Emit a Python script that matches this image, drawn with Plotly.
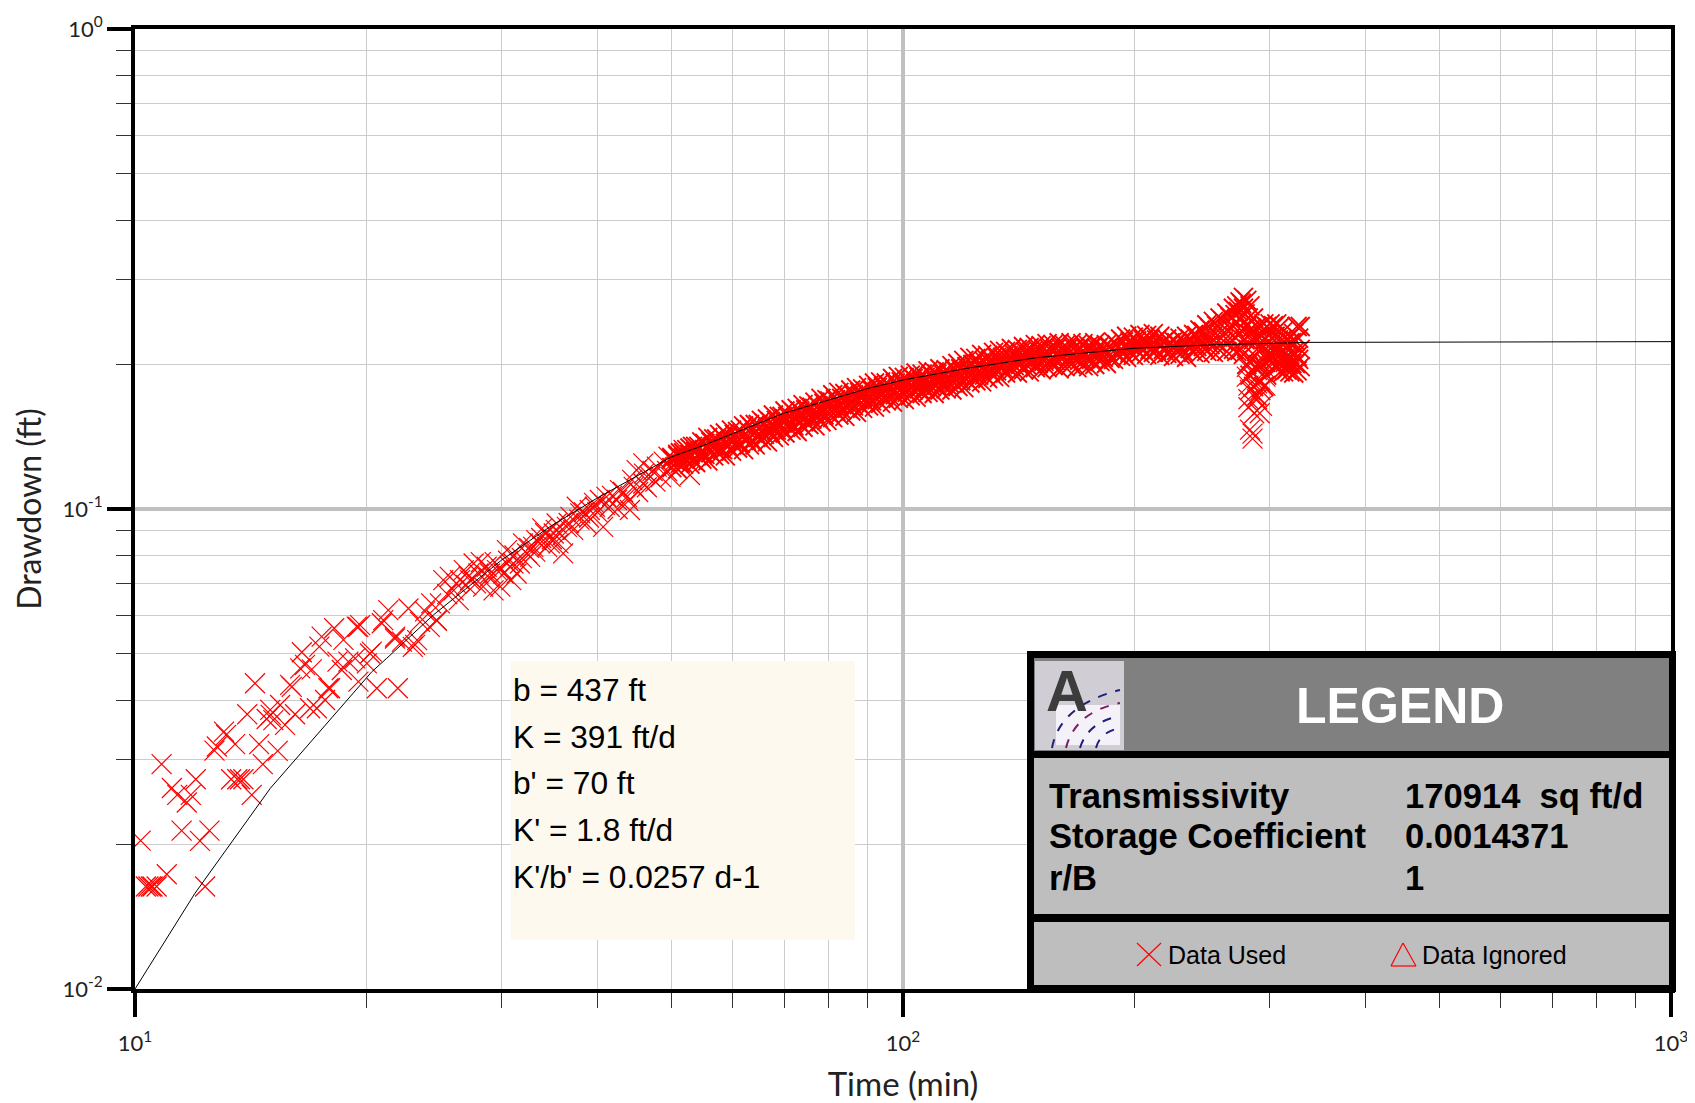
import plotly.graph_objects as go

# scattered early readings, time (min) and drawdown (ft)
early_t = [10.17, 10.33, 10.41, 10.49, 10.54, 10.67, 11.0, 12.34, 11.5, 12.15, 12.5, 10.83, 11.17, 11.35, 11.68, 11.82, 12.0,
           13.34, 13.59, 13.7, 13.84, 14.19, 14.67, 15.34, 12.69, 12.78, 13.06, 13.14, 13.5, 14.51, 14.33, 14.0, 14.84, 15.02,
           15.14, 15.0, 15.45, 15.68, 16.16, 16.9, 17.25, 17.68, 15.92, 16.0, 16.49, 16.41, 16.65, 16.99, 17.38, 17.5, 18.17,
           17.95, 17.86, 18.35, 18.68, 18.59, 18.96, 19.35, 19.44, 19.64, 19.54, 20.04, 20.34, 20.65, 21.99, 20.96, 21.81,
           22.26, 23.16, 24.72, 23.51]
early_s = [.02038, .01635, .01635, .01635, .01635, .01635, .01734, .01635, .02138, .02035, .02138, .0294, .02623, .02538,
           .02446, .02538, .02735, .02735, .02735, .02735, .02735, .02538, .0294, .03133, .03138, .032, .03437, .03383, .03236,
           .03236, .04334, .03736, .03652, .03724, .03633, .03814, .03906, .03549, .03736, .03845, .03845, .04, .043, .0426,
           .0503, .04657, .04733, .04635, .05168, .05421, .05643, .04232, .04232, .0481, .05337, .0462, .0481, .04886, .05688,
           .0573, .0437, .0477, .05045, .04232, .04232, .0578, .05421, .05293, .0521, .0585, .0582]

# middle part of the curve
mid_t = [19.53, 20.23, 21.05, 21.37, 21.8, 22.7, 23.0, 23.86, 24.3, 24.7, 25.2, 26.0, 25.7, 26.4, 27.0, 27.6, 28.0, 28.4, 29.3,
         28.7, 29.6, 30.2, 30.9, 31.4, 31.1, 30.5, 32.0, 32.7, 33.3, 34.4, 34.7, 35.6, 36.1, 33.9, 35.4, 36.9, 37.6, 38.7,
         39.7, 40.7, 41.1, 42.4, 44.1, 43.7, 45.0, 45.9, 46.9, 49.5, 51.8, 52.8, 54.4, 26.5, 24.95, 24.2, 23.3, 26.8, 27.3,
         29.0, 29.9, 30.8, 31.7, 32.4, 33.0, 33.7, 35.1, 36.5, 38.0, 39.1, 40.3, 41.5, 42.8, 44.6, 45.9, 47.8, 49.8,
         25.5, 26.2, 27.2, 27.8, 28.2, 28.9, 29.4, 30, 30.6, 31.2, 31.9, 32.6, 33.2, 33.8, 34.2, 34.9, 35.3, 36, 36.7, 37.2,
         37.9, 38.4, 39, 39.6, 40, 40.9, 41.8, 42.5, 43.2, 43.9, 44.4, 45.2, 46, 46.4, 47.2, 47.6, 48.4, 48.8, 49.3, 50.4]
mid_s = [.0568, .05, .05866, .06156, .05373, .06205, .0516, .0612, .0636, .05866, .0711, .0677, .0722, .0646, .0694, .077, .0734,
         .0689, .0677, .0758, .0746, .0734, .0711, .0734, .077, .0821, .0848, .0795, .0861, .0834, .0848, .0848, .0808, .0911,
         .0933, .0963, .1011, .0933, .1011, .0918, .106, .1044, .0995, .106, .1205, .1245, .1167, .1285, .1327, .1177, .1285,
         .0711, .0636, .0568, .0533, .0746, .0711, .0734, .0689, .0758, .077, .0808, .0834, .0848, .0889, .0918, .0979, .0995,
         .1044, .1011, .1095, .1112, .113, .1225, .1167,
         .0665, .07, .0725, .07, .0775, .072, .0775, .075, .078, .08, .079, .083, .0815, .087, .089, .0865, .0905, .088, .0935,
         .0905, .095, .0985, .096, .103, .0985, .102, .1065, .1, .1085, .104, .115, .1085, .1185, .111, .12, .114, .1165, .1255,
         .12, .126]

# dense late band: readings at each time, upper, middle and lower edge of the cloud
band_t = [50, 50.9, 51.8, 52.8, 53.7, 54.7, 55.7, 56.7, 57.7, 58.7, 59.8, 60.9, 62, 63.1, 64.2, 65.4, 66.6, 67.8, 69, 70.2, 71.5,
          72.8, 74.1, 75.4, 76.8, 78.2, 79.6, 81, 82.5, 84, 85.5, 87, 88.6, 90.2, 91.8, 93.5, 95.1, 96.9, 98.6, 100.4, 102.2,
          104, 105.9, 107.8, 109.8, 111.7, 113.8, 115.8, 117.9, 120, 122.2, 124.4, 126.6, 128.9, 131.2, 133.6, 136, 138.4,
          140.9, 143.5, 146, 148.7, 151.3, 154, 156.8, 159.7, 162.5, 165.5, 168.4, 171.5, 174.5, 177.7, 180.5, 184, 188, 192,
          195.5, 199.5, 203.5, 207.6, 211.8, 216, 220.5, 225, 229.5, 234, 239, 243.6, 248.6, 253.6, 258.7, 264, 269.3, 272,
          274.7, 277.5, 280.3, 283, 286, 289, 292, 295, 297.6, 300.6, 303.6, 306.7, 309.8, 313, 316, 319, 322.7, 326, 329]
band_top = [.128, .130, .131, .134, .135, .138, .141, .140, .143, .144, .146, .145, .149, .150, .150, .153, .154, .157, .156, .160,
            .161, .162, .165, .164, .167, .170, .169, .173, .175, .174, .177, .179, .178, .181, .183, .184, .183, .187, .189,
            .188, .190, .192, .191, .194, .193, .196, .195, .199, .201, .204, .207, .206, .210, .209, .212, .214, .213, .216,
            .215, .218, .217, .220, .219, .221, .220, .222, .219, .222, .220, .221, .219, .222, .219, .220, .223, .226, .229,
            .228, .231, .230, .232, .229, .226, .224, .227, .229, .231, .236, .242, .246, .250, .256, .262, .265, .270, .276,
            .272, .265, .250, .240, .241, .243, .240, .243, .241, .243, .240, .235, .225, .222, .232, .240, .240]
band_mid = [.127, .129, .128, .130, .132, .131, .134, .135, .134, .137, .139, .138, .142, .141, .144, .145, .147, .148, .150, .152,
            .151, .154, .156, .157, .158, .160, .163, .163, .165, .168, .167, .170, .171, .172, .175, .174, .177, .178, .179,
            .181, .180, .183, .184, .183, .186, .187, .186, .189, .190, .192, .193, .195, .196, .198, .199, .201, .203, .202,
            .205, .206, .207, .206, .208, .209, .207, .210, .211, .209, .212, .210, .213, .211, .212, .214, .213, .215, .217,
            .218, .219, .220, .218, .220, .219, .217, .218, .220, .222, .224, .226, .230, .233, .236, .240, .245, .250, .262,
            .240, .232, .225, .215, .215, .218, .212, .220, .213, .216, .210, .214, .208, .206, .212, .208, .215]
band_low = [.122, .121, .124, .124, .125, .127, .126, .129, .130, .129, .132, .134, .133, .136, .136, .139, .138, .141, .142, .144,
            .146, .145, .148, .150, .149, .152, .153, .155, .157, .156, .160, .159, .162, .164, .163, .166, .168, .167, .170,
            .169, .172, .171, .174, .175, .174, .177, .178, .177, .180, .179, .183, .185, .184, .187, .189, .188, .192, .194,
            .192, .195, .193, .197, .195, .197, .199, .196, .198, .200, .197, .199, .198, .200, .203, .201, .205, .208, .207,
            .209, .211, .210, .212, .209, .211, .208, .210, .207, .212, .211, .213, .212, .214, .213, .215, .213, .214, .210,
            .200, .190, .180, .172, .185, .180, .190, .205, .207, .197, .193, .193, .195, .193, .192, .194, .198]

# second set of readings inside the solid part of the band
inner_t = [51.3, 52.3, 53.2, 54.2, 55.2, 56.2, 57.2, 58.2, 59.2, 60.3, 61.4, 62.5, 63.6, 64.8, 66, 67.2, 68.4, 69.6, 70.8, 72.1,
           73.4, 74.7, 76.1, 77.5, 78.9, 80.3, 81.7, 83.2, 84.7, 86.2, 87.8, 89.4, 91, 92.6, 94.3, 96, 97.7, 99.5, 101.3, 103.1,
           105, 106.9, 108.8, 110.7, 112.7, 114.8, 116.8, 118.9, 121.1, 123.3, 125.5, 127.7, 130, 132.4, 134.8, 137.2, 139.6,
           142.2, 144.7, 147.3, 150, 152.6, 155.4, 158.2, 161, 164, 167, 169.9, 173, 176, 179, 182.2, 186, 190, 193.7, 197.5,
           201.5, 205.5, 209.7, 213.9, 218.2, 222.7, 227.2, 231.7, 236.5, 241.3, 246, 251, 256, 261.3, 266.6, 270.6, 273.3, 276,
           278.9, 281.6, 284.5, 287.5, 290.5, 293.5, 296.3, 299.1, 302.1, 305.1, 308.2, 311.4, 314.5, 317.5, 320.8, 324.3, 327.5]
inner_up = [.131, .133, .135, .135, .137, .138, .140, .141, .142, .143, .146, .147, .148, .150, .151, .152, .153, .156, .156, .159,
            .160, .161, .163, .164, .166, .168, .169, .170, .172, .173, .175, .176, .177, .179, .180, .181, .183, .184, .185, .187,
            .188, .188, .190, .191, .191, .193, .195, .196, .198, .200, .201, .203, .204, .207, .207, .209, .210, .212, .212, .213,
            .214, .215, .215, .216, .216, .216, .216, .216, .216, .217, .216, .216, .218, .220, .223, .223, .224, .225, .226, .225,
            .223, .222, .222, .224, .226, .230, .234, .238, .241, .246, .251, .254, .258, .268, .255, .250, .238, .228, .228, .230,
            .226, .231, .227, .229, .225, .225, .222, .214, .222, .224, .227]
inner_dn = [.1245, .126, .1265, .129, .130, .131, .132, .133, .135, .136, .137, .139, .139, .141, .143, .144, .146, .147, .149, .149,
            .151, .152, .154, .155, .157, .158, .160, .161, .162, .164, .165, .167, .168, .169, .171, .172, .173, .175, .175, .177,
            .178, .179, .180, .181, .182, .183, .183, .185, .186, .188, .190, .190, .193, .194, .197, .197, .199, .200, .200, .202,
            .201, .203, .203, .203, .205, .204, .206, .204, .206, .205, .206, .207, .206, .210, .211, .212, .214, .214, .215, .214,
            .215, .212, .214, .213, .216, .218, .218, .220, .222, .224, .227, .228, .230, .235, .225, .215, .205, .198, .200, .200,
            .202, .210, .210, .205, .202, .203, .202, .200, .201, .201, .205]

# the dip just before 300 min
dip_t = [285.2, 285.2, 283, 286.6, 291.4, 281.7, 293.4, 289, 281.7, 292, 283, 296.4, 281.7, 289, 296.4, 280.3, 297.6, 280.3, 289]
dip_s = [.1402, .1436, .1463, .1583, .1583, .1629, .1641, .1693, .1693, .177, .177, .1807, .1807, .1828, .1887, .1887, .1948, .1977, .1948]

# fitted curve
fit_t = [10, 11.97, 15.0, 20.34, 21.27, 24.46, 30.02, 34.7, 39.9, 50.0, 54.4, 63.2, 69.9, 90.1, 100.1, 121, 149, 199.6, 251, 337, 1000]
fit_s = [.01, .01583, .02618, .0458, .04886, .06015, .07829, .09187, .1052, .1285, .1348, .1484, .1582, .1784, .1857, .1963, .2066,
         .2162, .2197, .2224, .2232]

x_ticks = [10, 100, 1000]
x_labels = ["10<sup>1</sup>", "10<sup>2</sup>", "10<sup>3</sup>"]
y_ticks = [.01, .1, 1]
y_labels = ["10<sup>-2</sup>", "10<sup>-1</sup>", "10<sup>0</sup>"]
x_minor = [m * d for d in (10, 100) for m in range(2, 10)]
y_minor = [m * d for d in (.01, .1) for m in range(2, 10)]

params = ["b = 437 ft", "K = 391 ft/d", "b' = 70 ft", "K' = 1.8 ft/d", "K'/b' = 0.0257 d-1"]
legend_names = ["Transmissivity", "Storage Coefficient", "r/B"]
legend_values = ["170914  sq ft/d", "0.0014371", "1"]

# plot area in page pixels; the page body adds 8px around the figure
L, R, T, B = 135, 1671, 29, 989
W, H = 1687, 1095
PAGE = 8


def px(x):
    return (x - L) / (R - L)


def py(y):
    return (B - y) / (B - T)


def rect(x0, y0, x1, y1, color):
    return dict(type="rect", xref="paper", yref="paper", x0=px(x0), x1=px(x1), y0=py(y0), y1=py(y1),
                fillcolor=color, line_width=0, layer="above")


def seg(x0, y0, x1, y1, color, width=1.2):
    return dict(type="line", xref="paper", yref="paper", x0=px(x0), x1=px(x1), y0=py(y0), y1=py(y1),
                line=dict(color=color, width=width), layer="above")


def curve(x0, y0, cx, cy, x1, y1, color):
    # paper coordinates map to pixels through the plot area
    path = "M %f,%f Q %f,%f %f,%f" % (px(x0), py(y0), px(cx), py(cy), px(x1), py(y1))
    return dict(type="path", xref="paper", yref="paper", path=path, line=dict(color=color, width=2, dash="dash"), layer="above")


def label(x, y, text, size, color="black", bold=False, anchor="left"):
    return dict(xref="paper", yref="paper", x=px(x), y=py(y), text="<b>%s</b>" % text if bold else text, showarrow=False,
                xanchor=anchor, yanchor="middle", font=dict(family="Liberation Sans", size=size, color=color))


sparse_t = early_t + mid_t + dip_t
sparse_s = early_s + mid_s + dip_s
dense_t = band_t * 3 + inner_t * 2
dense_s = band_top + band_mid + band_low + inner_up + inner_dn

fig = go.Figure()
fig.add_scatter(x=dense_t, y=dense_s, mode="markers", showlegend=False,
                marker=dict(symbol="x-thin", size=19, color="red", line=dict(color="red", width=1.9)))
fig.add_scatter(x=sparse_t, y=sparse_s, mode="markers", showlegend=False,
                marker=dict(symbol="x-thin", size=20, color="red", line=dict(color="red", width=1.2)))
fig.add_scatter(x=fit_t, y=fit_s, mode="lines", showlegend=False, line=dict(color="black", width=1))

axis = dict(type="log", automargin=False, showline=True, linecolor="black", linewidth=4, mirror=True, ticks="outside", ticklen=24,
            tickwidth=4, tickcolor="black", gridcolor="#c0c0c0", gridwidth=3.5, zeroline=False,
            tickfont=dict(family="Lato", size=22, color="#222222"))
minor = dict(ticks="outside", ticklen=15, tickwidth=1, tickcolor="#333333", showgrid=True, gridcolor="#cccccc", gridwidth=1.2,
             tickmode="array")

fig.update_xaxes(axis, range=[1, 3], tickmode="array", tickvals=x_ticks, ticktext=x_labels, ticklabelstandoff=8,
                 minor=dict(minor, tickvals=x_minor),
                 title=dict(text="Time (min)", font=dict(family="Lato", size=33, color="#222222"), standoff=18))
fig.update_yaxes(axis, range=[-2, 0], tickmode="array", tickvals=y_ticks, ticktext=y_labels, ticklabelstandoff=0,
                 minor=dict(minor, tickvals=y_minor),
                 title=dict(text="Drawdown (ft)", font=dict(family="Lato", size=32, color="#222222"), standoff=12))

shapes = [
    rect(511, 661, 855, 940, "#fdf9ee"),
    # legend frame and panels
    rect(1027, 651, 1676, 992, "black"),
    rect(1034, 658, 1669, 751, "#808080"),
    rect(1034, 758, 1669, 914, "#bebebe"),
    rect(1034, 922, 1669, 985, "#bebebe"),
    # logo
    rect(1035, 661, 1124, 750, "#d0ced4"),
    rect(1056, 705, 1120, 745, "#f4f2f8"),
    # legend symbols
    seg(1137, 943, 1161, 966, "red"),
    seg(1137, 966, 1161, 943, "red"),
    seg(1391, 966, 1416, 966, "red"),
    seg(1391, 966, 1403, 943, "red"),
    seg(1403, 943, 1416, 966, "red"),
    curve(1052, 748, 1060, 705, 1120, 690, "#20207a"),
    curve(1066, 748, 1075, 712, 1120, 703, "#7a2060"),
    curve(1080, 748, 1088, 722, 1120, 716, "#20207a"),
    curve(1096, 748, 1100, 732, 1120, 728, "#20207a"),
]

annotations = [label(1400, 706, "LEGEND", 50, "white", True, "center"),
               label(1067, 690, "A", 58, "#3c3c3c", True, "center"),
               label(1166, 955, "Data Used", 25),
               label(1420, 955, "Data Ignored", 25)]
for text, y in zip(params, [690, 737, 783, 830, 877]):
    annotations.append(label(511, y, text, 31.7))
for text, value, y in zip(legend_names, legend_values, [796, 836, 878]):
    annotations.append(label(1047, y, text, 34.6, bold=True))
    annotations.append(label(1403, y, value.replace("  ", "&nbsp;&nbsp;"), 34.6, bold=True))

fig.update_layout(width=W, height=H, autosize=False,
                  margin=dict(l=L - PAGE, r=W - (R - PAGE), t=T - PAGE, b=H - (B - PAGE)),
                  plot_bgcolor="white", paper_bgcolor="white", shapes=shapes, annotations=annotations)

fig.write_html("out.html")
